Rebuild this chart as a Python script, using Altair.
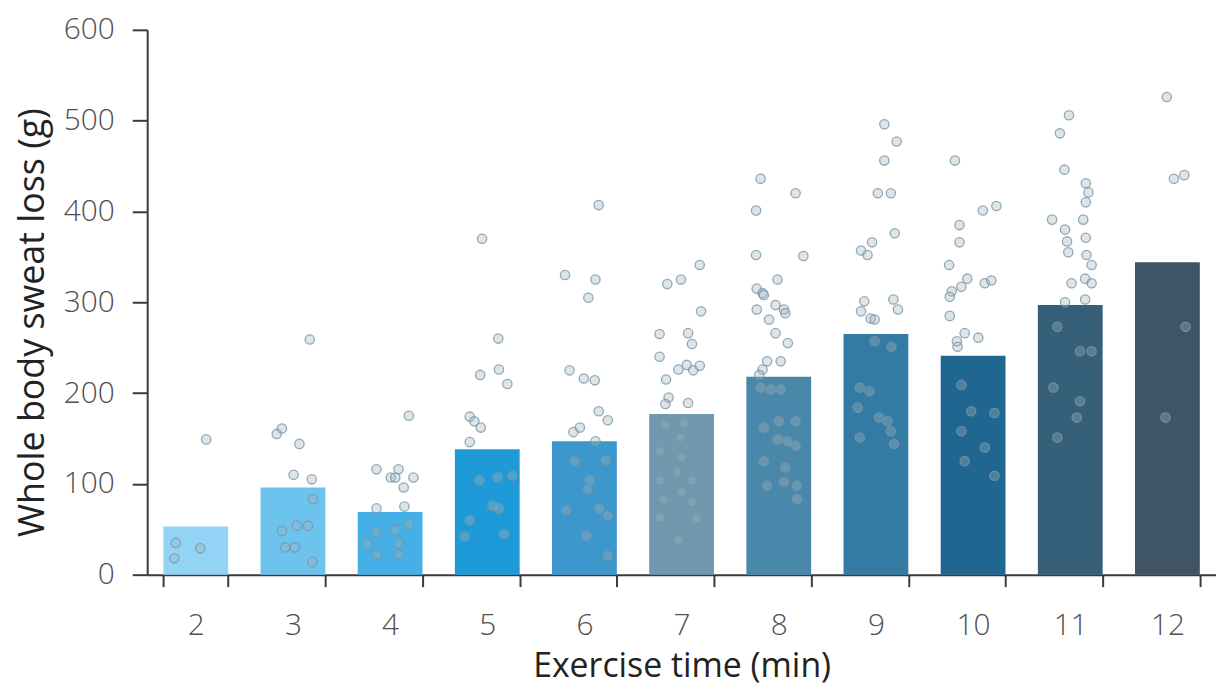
import altair as alt
import pandas as pd

# ---- data ----
times = [2, 3, 4, 5, 6, 7, 8, 9, 10, 11, 12]
mean_loss = [53, 96, 69, 138, 147, 177, 218, 265, 241, 297, 344]
bar_colors = ["#93d3f5", "#6cc3ee", "#45b0e5", "#1f9ad8", "#3b97cc", "#7099b0",
              "#4a88ab", "#337ba2", "#1f6690", "#365f7a", "#3f5566"]

loss_2 = [149, 35, 29, 18]
jit_2 = [0.16, -0.31, 0.07, -0.33]

loss_3 = [259, 161, 155, 144, 110, 105, 83, 48, 54, 54, 30, 30, 14]
jit_3 = [0.26, -0.17, -0.25, 0.10, 0.01, 0.29, 0.31, -0.17, 0.06, 0.23, -0.12, 0.03, 0.30]

loss_4 = [175, 116, 116, 107, 107, 107, 96, 73, 75, 56, 47, 49, 34, 34, 22, 22]
jit_4 = [0.29, -0.21, 0.13, 0.01, 0.08, 0.36, 0.21, -0.21, 0.22, 0.29, -0.22, 0.08,
         -0.35, 0.13, -0.20, 0.13]

loss_5 = [370, 260, 220, 226, 210, 174, 169, 162, 146, 104, 107, 109, 76, 73, 60, 45, 42]
jit_5 = [-0.08, 0.17, -0.11, 0.18, 0.31, -0.27, -0.20, -0.10, -0.27, -0.12, 0.16, 0.39,
         0.08, 0.18, -0.27, 0.26, -0.35]

loss_6 = [407, 330, 325, 305, 225, 216, 214, 180, 170, 157, 162, 147, 125, 126, 104,
          94, 71, 73, 65, 43, 21]
jit_6 = [0.22, -0.30, 0.17, 0.06, -0.23, -0.01, 0.16, 0.22, 0.36, -0.17, -0.07, 0.17,
         -0.15, 0.33, 0.08, 0.05, -0.28, 0.23, 0.36, 0.03, 0.36]

loss_7 = [341, 320, 325, 290, 265, 266, 254, 240, 226, 231, 225, 230, 215, 195, 188,
          189, 167, 165, 151, 136, 129, 113, 104, 104, 91, 83, 80, 63, 62, 38]
jit_7 = [0.28, -0.22, -0.01, 0.30, -0.34, 0.10, 0.16, -0.34, -0.05, 0.08, 0.18, 0.28,
         -0.24, -0.20, -0.25, 0.10, 0.03, -0.25, -0.02, -0.33, 0.00, -0.07, -0.33, 0.16,
         0.00, -0.28, 0.16, -0.33, 0.23, -0.05]

loss_8 = [436, 420, 401, 352, 351, 325, 315, 310, 308, 292, 297, 292, 288, 281, 266,
          255, 235, 235, 226, 220, 206, 204, 204, 162, 169, 169, 149, 142, 147, 125,
          118, 98, 98, 83, 102]
jit_8 = [-0.28, 0.26, -0.35, -0.35, 0.38, -0.02, -0.34, -0.25, -0.23, -0.34, -0.05,
         0.08, 0.10, -0.15, -0.05, 0.14, -0.18, 0.03, -0.25, -0.30, -0.28, -0.12, 0.03,
         -0.23, 0.00, 0.26, -0.02, 0.26, 0.13, -0.23, 0.10, -0.18, 0.28, 0.28, 0.08]

loss_9 = [496, 477, 456, 420, 420, 376, 366, 357, 352, 301, 303, 292, 290, 282, 281,
          257, 251, 206, 202, 184, 173, 169, 158, 144, 151]
jit_9 = [0.13, 0.32, 0.13, 0.03, 0.23, 0.29, -0.06, -0.23, -0.13, -0.18, 0.27, 0.34,
         -0.23, -0.08, -0.02, -0.02, 0.24, -0.25, -0.10, -0.28, 0.05, 0.18, 0.23, 0.28,
         -0.25]

loss_10 = [456, 401, 406, 385, 366, 341, 326, 317, 312, 306, 321, 324, 285, 266, 261,
           257, 251, 209, 180, 178, 158, 140, 109, 125]
jit_10 = [-0.28, 0.15, 0.36, -0.21, -0.21, -0.37, -0.09, -0.18, -0.33, -0.36, 0.18,
          0.28, -0.36, -0.13, 0.08, -0.25, -0.24, -0.18, -0.03, 0.33, -0.18, 0.18, 0.33,
          -0.13]

loss_11 = [506, 486, 446, 431, 421, 410, 391, 391, 380, 367, 355, 371, 352, 341, 321,
           326, 321, 303, 300, 273, 246, 246, 206, 191, 173, 151]
jit_11 = [-0.02, -0.16, -0.09, 0.24, 0.28, 0.24, -0.28, 0.20, -0.08, -0.05, -0.03,
          0.24, 0.25, 0.33, 0.02, 0.23, 0.33, 0.23, -0.08, -0.20, 0.15, 0.33, -0.26,
          0.15, 0.10, -0.20]

loss_12 = [526, 436, 440, 273, 173]
jit_12 = [-0.01, 0.10, 0.26, 0.28, -0.03]

point_loss = [loss_2, loss_3, loss_4, loss_5, loss_6, loss_7, loss_8, loss_9,
              loss_10, loss_11, loss_12]
point_jit = [jit_2, jit_3, jit_4, jit_5, jit_6, jit_7, jit_8, jit_9, jit_10,
             jit_11, jit_12]

# ---- tables ----
bars = pd.DataFrame({"t": times, "loss": mean_loss})
rows = []
for t, vals, jits in zip(times, point_loss, point_jit):
    for v, j in zip(vals, jits):
        rows.append({"t": t, "loss": v, "jit": j})
pts = pd.DataFrame(rows)

FONT = "Open Sans"
PAD_IN = 0.333
PAD_OUT = PAD_IN / 2

x_enc = alt.X(
    "t:O",
    title="Exercise time (min)",
    scale=alt.Scale(paddingInner=PAD_IN, paddingOuter=PAD_OUT),
    axis=alt.Axis(
        labelAngle=0, tickBand="extent", tickSize=12, tickWidth=2,
        tickColor="#3a3a3a", domainColor="#3a3a3a", domainWidth=2,
        labelFont=FONT, labelFontSize=30, labelFontWeight=300, labelColor="#505050",
        labelPadding=24, titleFont=FONT, titleFontSize=34, titleFontWeight=400,
        titleColor="#222222", titlePadding=9,
    ),
)
y_enc = alt.Y(
    "loss:Q",
    title="Whole body sweat loss (g)",
    scale=alt.Scale(domain=[0, 600], nice=False, zero=True),
    axis=alt.Axis(
        values=[0, 100, 200, 300, 400, 500, 600], grid=False, tickSize=15,
        tickWidth=2, tickColor="#3a3a3a", domainColor="#3a3a3a", domainWidth=2,
        labelFont=FONT, labelFontSize=30, labelFontWeight=300, labelColor="#505050",
        labelPadding=18, titleFont=FONT, titleFontSize=36, titleFontWeight=400,
        titleColor="#222222", titlePadding=12, titleY=294,
    ),
)
color_scale = alt.Scale(domain=times, range=bar_colors)

bar_layer = alt.Chart(bars).mark_bar().encode(
    x=x_enc,
    y=y_enc,
    color=alt.Color("t:O", scale=color_scale, legend=None),
)

point_layer = alt.Chart(pts).transform_calculate(
    xpos=f"datum.t - 2 + datum.jit * {1 - PAD_IN}"
).mark_circle(
    size=88, opacity=1, fill="#9db4c0", fillOpacity=0.35,
    stroke="#7a95a4", strokeWidth=1.3, strokeOpacity=0.8,
).encode(
    x=alt.X("xpos:Q", axis=None,
            scale=alt.Scale(domain=[-0.5, len(times) - 0.5], nice=False, zero=False)),
    y=alt.Y("loss:Q"),
)

chart = alt.layer(bar_layer, point_layer).resolve_scale(x="independent").properties(
    width=1075, height=548,
    padding={"left": 6, "top": 5, "right": 0, "bottom": 0},
).configure(
    background="white", view=alt.ViewConfig(stroke=None)
)

chart.save("out.html", embed_options={"renderer": "svg", "actions": False})
